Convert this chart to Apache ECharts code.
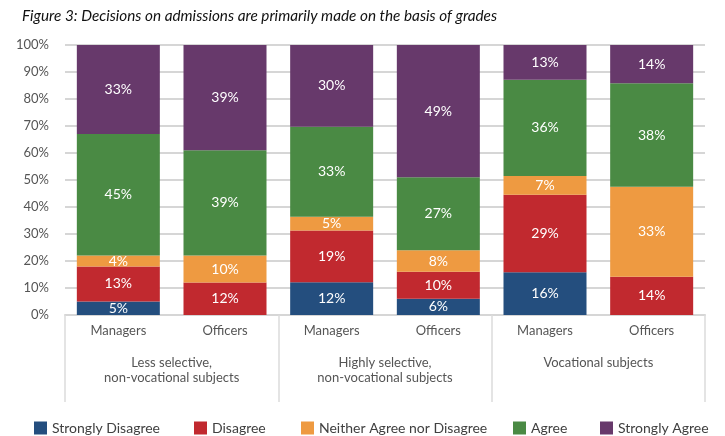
<!DOCTYPE html>
<html>
<head>
<meta charset="utf-8">
<script src="https://cdn.jsdelivr.net/npm/echarts@6/dist/echarts.min.js"></script>
<style>html,body{margin:0;padding:0;background:#fff}#c{width:725px;height:436px}</style>
</head>
<body>
<div id="c"></div>
<script>
const titleText = 'Figure 3: Decisions on admissions are primarily made on the basis of grades';
const categories = ['Managers', 'Officers', 'Managers', 'Officers', 'Managers', 'Officers'];
const groups = ['Less selective,\nnon-vocational subjects', 'Highly selective,\nnon-vocational subjects', 'Vocational subjects'];
const seriesNames = ['Strongly Disagree', 'Disagree', 'Neither Agree nor Disagree', 'Agree', 'Strongly Agree'];
const stronglyDisagree = [5, 0, 12, 6, 16, 0];
const disagree = [13, 12, 19, 10, 29, 14];
const neither = [4, 10, 5, 8, 7, 33];
const agree = [45, 39, 33, 27, 36, 38];
const stronglyAgree = [33, 39, 30, 49, 13, 14];
const yTicks = [0, 10, 20, 30, 40, 50, 60, 70, 80, 90, 100];

const colors = ['#244e7e', '#c1292f', '#ee9a41', '#4a8a44', '#67396b'];
const values = [stronglyDisagree, disagree, neither, agree, stronglyAgree];
const FONT = 'Lato';
const legendLeft = [29, 189, 296, 508, 595];

// 100% stacked columns: each column is shown as share of its own total
const totals = categories.map((c, j) => values.reduce((s, arr) => s + arr[j], 0));

const chart = echarts.init(document.getElementById('c'), null, {renderer: 'canvas'});
chart.setOption({
  animation: false,
  color: colors,
  textStyle: {fontFamily: FONT},
  title: {
    text: titleText, left: 17, top: 4,
    textStyle: {fontFamily: FONT, fontStyle: 'italic', fontWeight: 'normal', fontSize: 15.3, color: '#111'}
  },
  legend: seriesNames.map((n, i) => ({
    data: [n], left: legendLeft[i], top: 416, itemWidth: 13, itemHeight: 13, icon: 'rect',
    textStyle: {fontFamily: FONT, fontSize: 14, color: '#404040'}
  })),
  grid: {left: 65, right: 20, top: 45, bottom: 121},
  xAxis: [
    {
      type: 'category', data: groups, position: 'bottom',
      axisLine: {show: true, lineStyle: {color: '#d6d6d6', width: 2}},
      axisTick: {show: true, length: 87, lineStyle: {color: '#dcdcdc', width: 1.5}},
      axisLabel: {margin: 40, fontFamily: FONT, fontSize: 13, lineHeight: 15, color: '#555'}
    },
    {
      type: 'category', data: categories, position: 'bottom',
      axisLine: {show: false}, axisTick: {show: false},
      axisLabel: {margin: 9, fontFamily: FONT, fontSize: 13, color: '#555', interval: 0}
    }
  ],
  yAxis: {
    type: 'value', min: 0, max: 100, interval: 10,
    axisLine: {show: false}, axisTick: {show: false},
    axisLabel: {margin: 16, fontFamily: FONT, fontSize: 13, color: '#555',
      formatter: v => yTicks.includes(v) ? v + '%' : ''},
    splitLine: {lineStyle: {color: '#d6d6d6', width: 2}}
  },
  series: seriesNames.map((n, i) => ({
    name: n, type: 'bar', stack: 'total', xAxisIndex: 1, barWidth: 83,
    itemStyle: {color: colors[i]},
    label: {show: true, position: 'inside', color: '#fff', fontFamily: FONT, fontSize: 14,
      formatter: p => values[i][p.dataIndex] ? values[i][p.dataIndex] + '%' : ''},
    data: values[i].map((v, j) => v / totals[j] * 100)
  }))
});
</script>
</body>
</html>
